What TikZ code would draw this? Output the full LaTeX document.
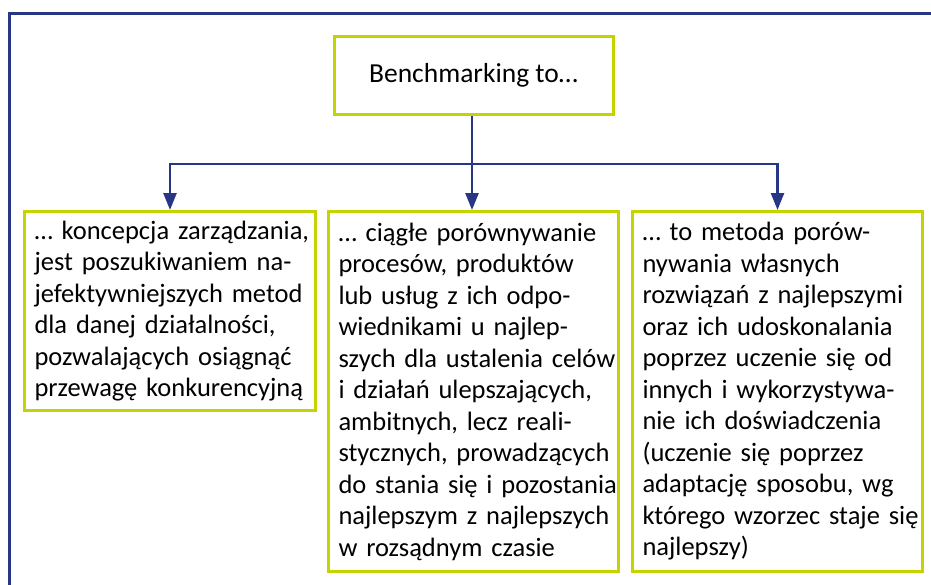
\documentclass[tikz,border=0pt]{standalone}
\usepackage{fontspec}
\setmainfont{Carlito}
\usetikzlibrary{arrows.meta}
\definecolor{frameblue}{RGB}{40,54,134}
\definecolor{boxgreen}{RGB}{197,212,0}
\hfuzz=60pt
\hbadness=10000
\begin{document}
\begin{tikzpicture}[x=1pt,y=-1pt,
  gbox/.style={draw=boxgreen,line width=3pt,inner xsep=10pt,inner ysep=0pt,
    anchor=north west,font=\fontsize{26.5}{31.5}\selectfont,
    execute at begin node={\parindent=0pt\linepenalty=1000\tolerance=10000\pretolerance=10000\rightskip=0pt plus 1fil minus 100pt\relax}},
  conn/.style={draw=frameblue,line width=2.5pt},
  arr/.style={conn,-{Triangle[width=13pt,length=17pt]}}]
\useasboundingbox (0,0) rectangle (931,584);
\draw[frameblue,line width=3pt] (9,600) -- (9,13) -- (945,13);

\node[draw=boxgreen,line width=3pt,minimum width=279pt,minimum height=78pt,
  font=\fontsize{27.5}{31}\selectfont] (top) at (473.5,75) {Benchmarking to…};

\node[gbox,minimum width=291pt,minimum height=199pt,text width=271pt] (b1) at (23,210)
{… koncepcja zarządzania,\\
jest poszukiwaniem na-\\
jefektywniejszych metod\\
dla danej działalności,\\
pozwalających osiągnąć\\
przewagę konkurencyjną};

\node[gbox,minimum width=290pt,minimum height=360pt,text width=270pt] (b2) at (327,210)
{… ciągłe porównywanie\\
procesów, produktów\\
lub usług z ich odpo-\\
wiednikami u najlep-\\
szych dla ustalenia celów\\
i działań ulepszających,\\
ambitnych, lecz reali-\\
stycznych, prowadzących\\
do stania się i pozostania\\
najlepszym z najlepszych\\
w rozsądnym czasie};

\node[gbox,minimum width=290pt,minimum height=360pt,text width=270pt] (b3) at (631,210)
{… to metoda porów-\\
nywania własnych\\
rozwiązań z najlepszymi\\
oraz ich udoskonalania\\
poprzez uczenie się od\\
innych i wykorzystywa-\\
nie ich doświadczenia\\
(uczenie się poprzez\\
adaptację sposobu, wg\\
którego wzorzec staje się\\
najlepszy)};

\coordinate (j) at (472,164);
\draw[conn] (top.south -| j) -- (j);
\draw[arr] (j) -| (b1.north);
\draw[arr] (j) -- (j |- b2.north);
\draw[arr] (j) -| (b3.north);
\end{tikzpicture}
\end{document}
